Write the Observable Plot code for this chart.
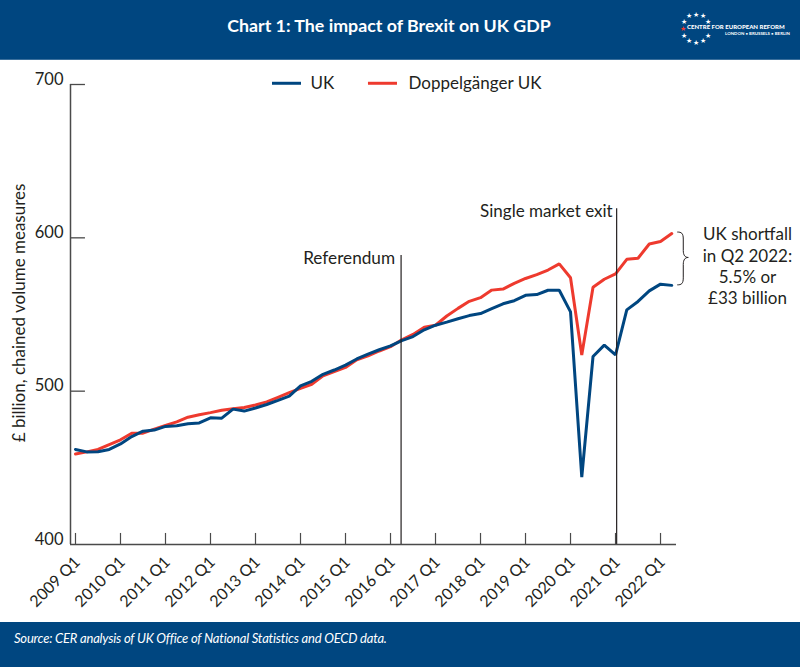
<!DOCTYPE html>
<html><head><meta charset="utf-8">
<script src="https://cdn.jsdelivr.net/npm/d3@7"></script>
<script src="https://cdn.jsdelivr.net/npm/@observablehq/plot@0.6"></script>
<style>
html,body{margin:0;padding:0;background:#fff;width:800px;height:667px;overflow:hidden;font-family:Lato,sans-serif}
#wrap{position:relative;width:800px;height:667px}
#head{position:absolute;left:0;top:0;width:800px;height:60px;background:#004680;border-bottom:1px solid #3a6f9c;box-sizing:border-box}
#title{position:absolute;left:0;width:778px;top:12px;text-align:center;color:#fff;font-weight:700;font-size:17.8px;line-height:26px}
#foot{position:absolute;left:0;top:622px;width:800px;height:45px;background:#004680;color:#fff;font-style:italic;font-size:13px;letter-spacing:-0.2px;line-height:18px}
#foot span{position:absolute;left:14px;top:7px;white-space:nowrap}
.lg{position:absolute;color:#fff;white-space:nowrap;font-weight:900}
.st{position:absolute;color:#fff;font-size:7px;line-height:8px;width:8px;text-align:center}
#chart{position:absolute;left:0;top:60px}
svg{display:block}
</style></head><body>
<div id="wrap">
<div id="head"><div id="title"></div>
<div class="lg" id="lg1" style="left:687px;top:22px;font-size:6px;line-height:10px;letter-spacing:0.02px"></div>
<div class="lg" id="lg2" style="left:725px;top:30px;font-size:4.4px;line-height:8px;font-weight:700"></div>
</div>
<div id="chart"></div>
<div id="foot"><span id="src"></span></div>
</div>
<script>
const titleText = "Chart 1: The impact of Brexit on UK GDP";
const sourceText = "Source: CER analysis of UK Office of National Statistics and OECD data.";
const logoName = "CENTRE FOR EUROPEAN REFORM";
const logoCities = "LONDON • BRUSSELS • BERLIN";
const axisTitle = "£ billion, chained volume measures";
const shortfallText = "UK shortfall\nin Q2 2022:\n5.5% or\n£33 billion";

const quarters = d3.range(2009, 2023).flatMap(y => [1,2,3,4].map(q => `${y} Q${q}`)).slice(0, 54);

const ukValues = [
  462,460.4,460.5,462, 465.6,470.4,473.9,474.6,
  477,477.4,478.7,479.3, 482.6,482.4,488.3,487,
  489,491.3,494,496.8, 503.4,506.4,511,513.8,
  517,521,524.2,527, 529.5,533,535.6,540,
  543,545,547.2,549.3, 550.6,553.8,557,559,
  562.5,563,565.8,565.8, 551.7,444,522.6,530,
  523.6,553,558.5,565.4, 569.8,569
];
const doppelValues = [
  459,460.4,462,465.2, 468.3,472.6,472.6,475.2,
  477.6,480,483,484.6, 486,487.6,488.5,489.3,
  491,493,496,499, 501.8,504.5,510,512.7,
  515.5,520.5,523,526.2, 529,533.5,537,541.7,
  543,549,554,558.6, 561,565.9,566.6,570.3,
  573.5,576,579,583, 574,523.6,567.8,573,
  576.5,586,586.7,596, 597.6,602.8
];
const tickYears = d3.range(2009, 2023);
const yTicks = [400,500,600,700];
const yRules = [500,600,700];
const events = [
  {label:"Referendum", q:"2016 Q2", top:588.4, nudge:-0.06, gap:-6},
  {label:"Single market exit", q:"2021 Q1", top:619, nudge:0.1, gap:-4}
];
const UK_COL = "#004680", DOP_COL = "#ee3a2e", INK = "#231f20", AXIS = "#4a4a4a";
const qi = q => quarters.indexOf(q);
const series = [
  ...doppelValues.map((v,i)=>({i,v,s:"Doppelgänger UK"})),
  ...ukValues.map((v,i)=>({i,v,s:"UK"}))
];
const legendItems = [
  {label:"UK", color:UK_COL, x1:17.51, x2:20.09, tx:20.89},
  {label:"Doppelgänger UK", color:DOP_COL, x1:26.04, x2:28.62, tx:29.6}
];
const font = "Lato, sans-serif";
const x0 = -0.444, x1 = 53.42;

function brace(index, {x, y}) {
  const l = x(53) + 6, m = l + 6, r = l + 11, t = y(602.8) - 1, b = y(569), c = (t+b)/2 - 1;
  const d = `M${l},${t}C${l+4},${t} ${m},${t+1} ${m},${t+7}L${m},${c-7}C${m},${c-2} ${m+2},${c} ${r},${c}C${m+2},${c} ${m},${c+2} ${m},${c+7}L${m},${b-7}C${m},${b-1} ${l+4},${b} ${l},${b}`;
  const p = document.createElementNS("http://www.w3.org/2000/svg","path");
  p.setAttribute("d", d); p.setAttribute("fill","none"); p.setAttribute("stroke",INK); p.setAttribute("stroke-width","1");
  return p;
}

const plot = Plot.plot({
  width:800, height:562, marginTop:24, marginBottom:78, marginLeft:70, marginRight:124,
  style:{fontFamily:font, background:"transparent", overflow:"visible"},
  x:{domain:[x0,x1], axis:null},
  y:{domain:[400,700], axis:null},
  marks:[
    Plot.line(series,{x:"i",y:"v",z:"s",stroke:d=>d.s==="UK"?UK_COL:DOP_COL,strokeWidth:3,strokeLinejoin:"miter"}),
    Plot.ruleX(events,{x:d=>qi(d.q)+d.nudge,y1:400,y2:"top",stroke:INK,strokeWidth:1.2}),
    Plot.text(events.slice(0,1),{x:d=>qi(d.q)+d.nudge,y:"top",text:"label",textAnchor:"end",dx:-6,dy:3,fontSize:17.2,fill:INK}),
    Plot.text(events.slice(1),{x:d=>qi(d.q)+d.nudge,y:"top",text:"label",textAnchor:"end",dx:-4,dy:3,fontSize:17,fill:INK}),
    Plot.ruleX([x0],{y1:400,y2:700,stroke:AXIS,strokeWidth:1.5}),
    Plot.ruleY([400],{x1:x0,x2:x1,stroke:AXIS,strokeWidth:1.5}),
    Plot.ruleY(yRules,{x1:x0,x2:x0+1.33,stroke:AXIS,strokeWidth:1.3}),
    Plot.ruleX(tickYears,{x:d=>qi(`${d} Q1`),y1:400,y2:407.2,stroke:AXIS,strokeWidth:1.2}),
    Plot.axisY({ticks:yTicks,tickSize:0,tickPadding:7,dy:-5,fontSize:16.5,fill:INK,label:null,anchor:"left",tickFormat:d=>d}),
    Plot.axisX({ticks:tickYears.map(d=>qi(`${d} Q1`)),tickSize:0,tickPadding:15,tickRotate:-45,textAnchor:"end",dx:2,fontSize:16,fill:INK,label:null,anchor:"bottom",tickFormat:d=>quarters[d]}),
    Plot.text([axisTitle],{x:x0,y:[551],dx:-51,text:d=>d,rotate:-90,fontSize:17,fill:INK}),
    Plot.ruleY(legendItems,{x1:"x1",x2:"x2",y:700.8,stroke:"color",strokeWidth:3}),
    Plot.text(legendItems,{x:"tx",y:700.8,text:"label",textAnchor:"start",fontSize:17,fill:INK}),
    Plot.text([shortfallText],{x:59.73,y:[582],text:d=>d,fontSize:17,lineHeight:1.25,fill:INK}),
    brace
  ]
});
document.getElementById("chart").append(plot);
document.getElementById("title").textContent = titleText;
document.getElementById("src").textContent = sourceText;
document.getElementById("lg1").textContent = logoName;
document.getElementById("lg2").textContent = logoCities;
const head = document.getElementById("head");
d3.range(12).filter(k=>k!==3).forEach(k=>{
  const a = k*Math.PI/6 - Math.PI/2;
  const s = document.createElement("div"); s.className="st"; s.textContent="★";
  s.style.left=(696+13.5*Math.cos(a)-4)+"px"; s.style.top=(27.5+14*Math.sin(a)-4)+"px";
  if(k===9) s.style.color="#ee3a2e";
  head.append(s);
});
</script>
</body></html>
